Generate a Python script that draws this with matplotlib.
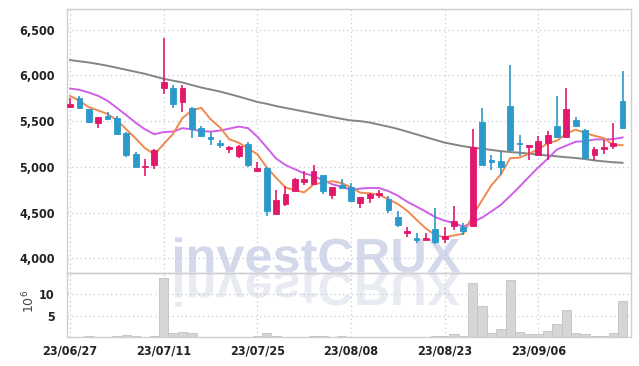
import matplotlib
matplotlib.use('Agg')
import numpy as np
import pandas as pd
import matplotlib.pyplot as plt
from matplotlib import font_manager
from matplotlib.textpath import TextPath
from matplotlib.patches import PathPatch
from matplotlib.font_manager import FontProperties
from matplotlib.transforms import Affine2D


# trading days shown on the chart (yy/mm/dd)
dates = ['23/06/27', '23/06/28', '23/06/29', '23/06/30', '23/07/03', '23/07/04', '23/07/05', '23/07/06',
         '23/07/07', '23/07/10', '23/07/11', '23/07/12', '23/07/13', '23/07/14', '23/07/17', '23/07/18',
         '23/07/19', '23/07/20', '23/07/21', '23/07/24', '23/07/25', '23/07/26', '23/07/27', '23/07/28',
         '23/07/31', '23/08/01', '23/08/02', '23/08/03', '23/08/04', '23/08/07', '23/08/08', '23/08/09',
         '23/08/10', '23/08/11', '23/08/14', '23/08/16', '23/08/17', '23/08/18', '23/08/21', '23/08/22',
         '23/08/23', '23/08/24', '23/08/25', '23/08/28', '23/08/29', '23/08/30', '23/08/31', '23/09/01',
         '23/09/04', '23/09/05', '23/09/06', '23/09/07', '23/09/08', '23/09/11', '23/09/12', '23/09/13',
         '23/09/14', '23/09/15', '23/09/18', '23/09/19']

open_ = [5650, 5750, 5630, 5485, 5555, 5535, 5370, 5140, 4995, 5015,
         5860, 5860, 5715, 5645, 5425, 5320, 5250, 5200, 5115, 5245,
         4960, 4990, 4485, 4595, 4740, 4830, 4810, 4910, 4695, 4800,
         4775, 4610, 4655, 4695, 4650, 4455, 4275, 4210, 4200, 4320,
         4215, 4350, 4345, 4355, 5495, 5060, 5060, 5670, 5255, 5215,
         5130, 5265, 5450, 5330, 5515, 5405, 5125, 5195, 5230, 5720]
high = [5750, 5780, 5635, 5550, 5600, 5560, 5380, 5160, 5085, 5190,
        6410, 5895, 5895, 5660, 5445, 5385, 5295, 5225, 5235, 5275,
        5055, 4995, 4750, 4790, 4875, 4960, 5020, 4915, 4785, 4870,
        4820, 4670, 4710, 4750, 4685, 4520, 4345, 4280, 4275, 4545,
        4345, 4575, 4390, 5415, 5645, 5130, 5165, 6115, 5345, 5240,
        5340, 5395, 5775, 5860, 5545, 5410, 5220, 5290, 5480, 6045]
low = [5640, 5635, 5475, 5425, 5520, 5355, 5105, 4995, 4895, 4980,
       5800, 5640, 5600, 5315, 5330, 5240, 5205, 5150, 5095, 4995,
       4955, 4465, 4480, 4575, 4735, 4805, 4805, 4700, 4650, 4765,
       4625, 4545, 4600, 4660, 4500, 4345, 4230, 4170, 4195, 4160,
       4165, 4310, 4255, 4350, 5015, 4965, 4910, 5180, 5120, 5075,
       5125, 5075, 5320, 5325, 5445, 5100, 5070, 5140, 5195, 5410]
close = [5690, 5640, 5490, 5545, 5525, 5360, 5130, 5000, 5005, 5185,
         5930, 5690, 5860, 5415, 5335, 5310, 5240, 5210, 5230, 5020,
         4990, 4520, 4640, 4705, 4870, 4870, 4955, 4740, 4780, 4770,
         4630, 4665, 4705, 4700, 4530, 4365, 4300, 4205, 4225, 4175,
         4240, 4405, 4300, 5215, 5020, 5055, 5000, 5185, 5245, 5235,
         5285, 5345, 5325, 5630, 5450, 5100, 5195, 5200, 5260, 5430]
# closes of the 9 sessions before the window (needed for the moving averages)
prev_close = [5780, 5790, 5905, 6075, 6135, 5915, 5835, 5725, 5720]

# long moving average (grey line)
ma_long = [6168, 6155, 6142, 6125, 6106, 6084, 6062, 6040, 6018, 5990,
           5963, 5943, 5923, 5895, 5868, 5846, 5824, 5797, 5769, 5740,
           5710, 5690, 5665, 5645, 5625, 5605, 5585, 5565, 5545, 5525,
           5508, 5500, 5485, 5462, 5440, 5415, 5385, 5355, 5325, 5295,
           5265, 5245, 5225, 5210, 5198, 5185, 5172, 5162, 5155, 5145,
           5133, 5125, 5115, 5105, 5097, 5085, 5070, 5060, 5050, 5045]

# volume, millions of shares
volume = [0.05, 0.05, 0.3, 0.1, 0.1, 0.25, 0.5, 0.2, 0.15, 0.4,
          13.7, 0.9, 1.3, 1.1, 0.15, 0.1, 0.1, 0.1, 0.1, 0.15,
          0.2, 0.9, 0.2, 0.1, 0.1, 0.1, 0.4, 0.3, 0.1, 0.2,
          0.1, 0.1, 0.1, 0.1, 0.1, 0.1, 0.1, 0.1, 0.1, 0.4,
          0.2, 0.7, 0.2, 12.5, 7.2, 0.9, 2.0, 13.4, 1.16, 0.7,
          0.7, 1.4, 3.2, 6.4, 0.9, 0.7, 0.2, 0.2, 0.9, 8.4]

tick_idx = [0, 10, 20, 30, 40, 50]

UP = '#e2186c'
DOWN = '#2b99c9'
GRID = '#c5c8de'


def narrow_bold_font(size):
    # the chart uses a condensed bold face; pick whatever narrow one is installed
    wanted = ['LiberationSansNarrow-Bold', 'DejaVuSansCondensed-Bold', 'RobotoCondensed-Bold',
              'OpenSans_Condensed-Bold', 'OpenSansCondensed-Bold']
    files = [f.fname for f in font_manager.fontManager.ttflist]
    for w in wanted:
        for fn in files:
            if w.lower() in fn.replace(' ', '').lower():
                return FontProperties(fname=fn, size=size)
    for fn in files:
        low_fn = fn.lower()
        if ('narrow' in low_fn or 'condensed' in low_fn) and 'bold' in low_fn:
            return FontProperties(fname=fn, size=size)
    return FontProperties(family='DejaVu Sans', weight='bold', size=size - 1)


all_close = pd.Series(prev_close + close)
ma5 = all_close.rolling(5).mean().to_numpy()[len(prev_close):]
ma10 = all_close.rolling(10).mean().to_numpy()[len(prev_close):]

x = np.arange(len(dates))
o = np.array(open_)
c = np.array(close)
colors = np.where(c >= o, UP, DOWN)

fig = plt.figure(figsize=(6.39, 3.66), dpi=100)
ax = fig.add_axes([67 / 639, 1 - 272.7 / 366, 564 / 639, 263.7 / 366])
axv = fig.add_axes([67 / 639, 1 - 337.3 / 366, 564 / 639, 64.6 / 366], sharex=ax)
for a in (ax, axv):
    a.set_facecolor('none')
    for s in a.spines.values():
        s.set_color('#cfcfcf')
        s.set_linewidth(1.0)
    a.grid(True, color=GRID, linestyle=(0, (1, 2.5)), linewidth=0.9)
    a.set_axisbelow(True)
    a.tick_params(length=0, labelcolor='#222222')

tick_prop = narrow_bold_font(9)

# watermark and its reflection, placed in figure inches
wm_prop = FontProperties(family='Liberation Sans', weight='bold')
tp = TextPath((0, 0), 'investCRUX', size=1, prop=wm_prop)
ext = tp.get_extents()
sc = 2.85 / ext.width
base_x, base_y = 1.75, (366 - 272) / 100
t_main = Affine2D().translate(-ext.x0, 0).scale(sc, sc * 0.95).translate(base_x, base_y) + fig.dpi_scale_trans
t_refl = Affine2D().translate(-ext.x0, 0).scale(sc, -sc * 0.95).translate(base_x, base_y) + fig.dpi_scale_trans
fig.add_artist(PathPatch(tp, transform=t_main, facecolor='#d3d8eb', edgecolor='none', zorder=-1))
fig.add_artist(PathPatch(tp, transform=t_refl, facecolor='#e9ebf3', edgecolor='none', zorder=-1))

# candles
ax.vlines(x, low, high, colors=colors, linewidth=1.2, zorder=3)
body = np.maximum(np.abs(c - o), 18)
ax.bar(x, body, bottom=np.minimum(o, c), width=0.62, color=colors, edgecolor=colors,
       linewidth=0.6, zorder=4)

ax.plot(x, ma_long, color='#858585', linewidth=1.4, zorder=2)
ax.plot(x, ma10, color='#cf5fe8', linewidth=1.4, zorder=2)
ax.plot(x, ma5, color='#ef8a4f', linewidth=1.4, zorder=2)

yt = [4000, 4500, 5000, 5500, 6000, 6500]
ax.set_ylim(3842, 6727)
ax.set_yticks(yt)
ax.set_yticklabels(['{:,}'.format(v) for v in yt], fontproperties=tick_prop)
ax.tick_params(axis='x', labelbottom=False)

# volume
axv.bar(x, volume, width=1.0, color='#d6d6d6', edgecolor='#c2c2c2', linewidth=0.6, zorder=2)
axv.set_ylim(0, 15)
axv.set_yticks([5, 10])
axv.set_yticklabels(['5', '10'], fontproperties=tick_prop)
axv.set_xlim(-0.33, 59.9)
axv.set_xticks(tick_idx)
axv.set_xticklabels([dates[i] for i in tick_idx], fontproperties=tick_prop)
axv.tick_params(axis='x', pad=5)
axv.tick_params(axis='y', pad=9)
ax.tick_params(axis='y', pad=9)
fig.text(29 / 639, 1 - 301 / 366, '$10^6$', rotation=90, ha='center', va='center',
         fontsize=9, color='#444444')

fig.savefig('out.png', dpi=100, facecolor='white')
